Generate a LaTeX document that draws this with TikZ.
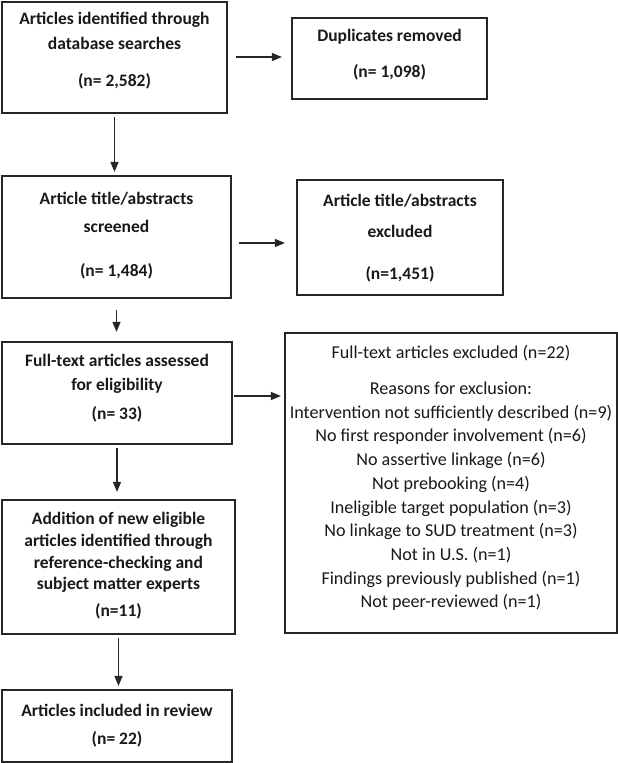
\documentclass[tikz,border=0pt]{standalone}
\usepackage{fontspec}
\setmainfont{Carlito}
\usetikzlibrary{arrows.meta,calc}
\begin{document}
\begin{tikzpicture}[x=1pt,y=-1pt,
  box/.style={draw=black!85, line width=2.2pt, inner sep=0pt},
  txt/.style={align=center, inner sep=0pt, text=black!90, font=\fontsize{17.5}{23}\selectfont\bfseries},
  txtreg/.style={align=center, inner sep=0pt, text=black!90, font=\fontsize{18.1}{23.7}\selectfont},
  arr/.style={line width=1.4pt, draw=black!85, -{Triangle[length=10pt,width=8pt]}}]
\useasboundingbox (0,0) rectangle (618,763);
\fill[white] (0,0) rectangle (618,763);

% boxes
\node[box, minimum width=225pt, minimum height=111pt] (b1) at (114.5,57.5) {};
\node[box, minimum width=195pt, minimum height=81pt] (b2) at (389.5,58.5) {};
\node[box, minimum width=229pt, minimum height=122pt] (b3) at (116.5,237) {};
\node[box, minimum width=206pt, minimum height=115pt] (b4) at (400,237.5) {};
\node[box, minimum width=230pt, minimum height=102pt] (b5) at (117,393) {};
\node[box, minimum width=332pt, minimum height=300pt] (b6) at (451,483) {};
\node[box, minimum width=233pt, minimum height=134pt] (b7) at (118.5,567) {};
\node[box, minimum width=230pt, minimum height=72pt] (b8) at (117,726) {};

% texts
\node[txt] (t1) at (114.5,51) {Articles identified through\\[2pt]database searches\\[14pt](n= 2,582)};
\node[txt] (t2) at (389.5,55) {Duplicates removed\\[13pt](n= 1,098)};
\node[txt] (t3) at (116.5,236) {Article title/abstracts\\[5pt]screened\\[21pt](n= 1,484)};
\node[txt] (t4) at (400,238.5) {Article title/abstracts\\[8pt]excluded\\[19pt](n=1,451)};
\node[txt] (t5) at (117,388.5) {Full-text articles assessed\\[1pt]for eligibility\\[6pt](n= 33)};
\node[txtreg] (t6) at (451,478) {Full-text articles excluded (n=22)\\[12.3pt]
Reasons for exclusion:\\
Intervention not sufficiently described (n=9)\\
No first responder involvement (n=6)\\
No assertive linkage (n=6)\\
Not prebooking (n=4)\\
Ineligible target population (n=3)\\
No linkage to SUD treatment (n=3)\\
Not in U.S. (n=1)\\
Findings previously published (n=1)\\
Not peer-reviewed (n=1)};
\node[txt, font=\fontsize{17.5}{21.7}\selectfont\bfseries] (t7) at (118.5,566) {Addition of new eligible\\articles identified through\\reference-checking and\\subject matter experts\\[5.3pt](n=11)};
\node[txt] (t8) at (117,726) {Articles included in review\\[5pt](n= 22)};

% connectors
\coordinate (c12) at ($(b1.east)+(0,-0.5)$);
\draw[arr, shorten <=8pt, shorten >=9pt] (c12) -- (c12 -| b2.west);
\draw[arr, shorten <=3pt, shorten >=3pt] (b1.south) -- (b1.south |- b3.north);
\coordinate (c34) at ($(b3.east)+(0,6)$);
\draw[arr, shorten <=7pt, shorten >=11pt] (c34) -- (c34 -| b4.west);
\draw[arr, shorten <=11pt, shorten >=9pt] (b3.south) -- (b3.south |- b5.north);
\coordinate (c56) at ($(b5.east)+(0,3)$);
\draw[arr, shorten <=1pt, shorten >=3pt] (c56) -- (c56 -| b6.west);
\draw[arr, shorten <=3pt, shorten >=7pt] (b5.south) -- (b5.south |- b7.north);
\draw[arr, shorten <=3pt, shorten >=3pt] (b7.south) -- (b7.south |- b8.north);
\end{tikzpicture}
\end{document}
